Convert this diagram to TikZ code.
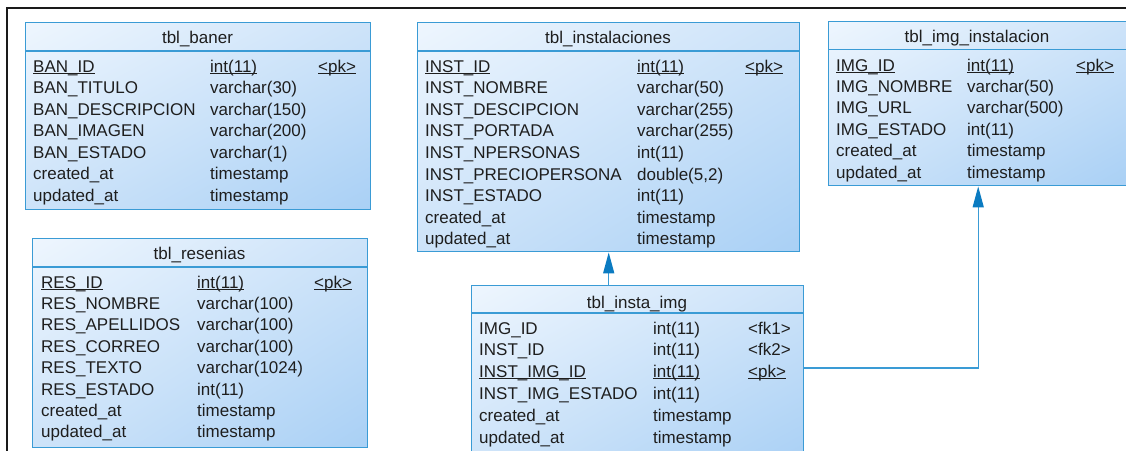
\documentclass[tikz,border=0pt]{standalone}
\usepackage{fontspec}
\setmainfont{Liberation Sans}
\usetikzlibrary{arrows.meta,shadings}

\definecolor{bord}{HTML}{3A9BD5}
\definecolor{arrowc}{HTML}{0B7BC1}
\definecolor{gradA}{HTML}{EEF6FE}
\definecolor{gradB}{HTML}{CDE3F9}
\definecolor{gradC}{HTML}{A9D0F5}
\definecolor{txt}{HTML}{1E1E1E}
\definecolor{framec}{HTML}{1A1A1A}

% underlined key fields
\newcommand\ulc[1]{\setbox0=\hbox{#1}\rlap{\rule[-1.6pt]{\wd0}{1.1pt}}\box0}

\tikzset{
  tbl/.style={draw=bord, line width=1.4pt, shade,
    upper left=gradA, upper right=gradB, lower left=gradB, lower right=gradC,
    inner sep=0pt, anchor=north west},
  sep/.style={draw=bord, line width=1.4pt},
  fld/.style={anchor=base west, inner sep=0pt, text=txt, font=\fontsize{17}{20}\selectfont},
  hdr/.style={anchor=base, inner sep=0pt, text=txt, font=\fontsize{17}{20}\selectfont},
  link/.style={draw=bord, line width=1.4pt,
    -{Triangle[length=21pt,width=11pt,color=arrowc]}},
  framel/.style={draw=framec, line width=2pt}
}

\begin{document}
\begin{tikzpicture}[x=1pt,y=-1pt]
\useasboundingbox (0,0) rectangle (1126,450);
\clip (0,0) rectangle (1126,450);

% page frame
\draw[framel] (7,452) -- (7,7.5) -- (1128,7.5);

% ---------- tbl_baner ----------
\node[tbl, minimum width=345, minimum height=187] (baner) at (25,22) {};
\draw[sep] ([yshift=-29pt]baner.north west) -- ([yshift=-29pt]baner.north east);
\node[hdr] (baner-h) at (197.5,43) {tbl\_baner};
\foreach \a/\b/\c [count=\i from 0] in {
  {\ulc{BAN\_ID}}/{\ulc{int(11)}}/{\ulc{<pk>}},
  {BAN\_TITULO}/{varchar(30)}/{},
  {BAN\_DESCRIPCION}/{varchar(150)}/{},
  {BAN\_IMAGEN}/{varchar(200)}/{},
  {BAN\_ESTADO}/{varchar(1)}/{},
  {created\_at}/{timestamp}/{},
  {updated\_at}/{timestamp}/{}}
{
  \node[fld] (baner-a\i) at (33,{72+21.5*\i}) {\a};
  \node[fld] (baner-b\i) at (210,{72+21.5*\i}) {\b};
  \node[fld] (baner-c\i) at (318,{72+21.5*\i}) {\c};
}

% ---------- tbl_resenias ----------
\node[tbl, minimum width=335, minimum height=209] (resen) at (32,238) {};
\draw[sep] ([yshift=-29pt]resen.north west) -- ([yshift=-29pt]resen.north east);
\node[hdr] (resen-h) at (199.5,259) {tbl\_resenias};
\foreach \a/\b/\c [count=\i from 0] in {
  {\ulc{RES\_ID}}/{\ulc{int(11)}}/{\ulc{<pk>}},
  {RES\_NOMBRE}/{varchar(100)}/{},
  {RES\_APELLIDOS}/{varchar(100)}/{},
  {RES\_CORREO}/{varchar(100)}/{},
  {RES\_TEXTO}/{varchar(1024)}/{},
  {RES\_ESTADO}/{int(11)}/{},
  {created\_at}/{timestamp}/{},
  {updated\_at}/{timestamp}/{}}
{
  \node[fld] (resen-a\i) at (41,{288+21.4*\i}) {\a};
  \node[fld] (resen-b\i) at (197,{288+21.4*\i}) {\b};
  \node[fld] (resen-c\i) at (314,{288+21.4*\i}) {\c};
}

% ---------- tbl_instalaciones ----------
\node[tbl, minimum width=382, minimum height=229] (inst) at (417,22) {};
\draw[sep] ([yshift=-29pt]inst.north west) -- ([yshift=-29pt]inst.north east);
\node[hdr] (inst-h) at (608,43) {tbl\_instalaciones};
\foreach \a/\b/\c [count=\i from 0] in {
  {\ulc{INST\_ID}}/{\ulc{int(11)}}/{\ulc{<pk>}},
  {INST\_NOMBRE}/{varchar(50)}/{},
  {INST\_DESCIPCION}/{varchar(255)}/{},
  {INST\_PORTADA}/{varchar(255)}/{},
  {INST\_NPERSONAS}/{int(11)}/{},
  {INST\_PRECIOPERSONA}/{double(5,2)}/{},
  {INST\_ESTADO}/{int(11)}/{},
  {created\_at}/{timestamp}/{},
  {updated\_at}/{timestamp}/{}}
{
  \node[fld] (inst-a\i) at (425,{72+21.6*\i}) {\a};
  \node[fld] (inst-b\i) at (637,{72+21.6*\i}) {\b};
  \node[fld] (inst-c\i) at (745,{72+21.6*\i}) {\c};
}

% ---------- tbl_insta_img ----------
\node[tbl, minimum width=332, minimum height=180] (insta) at (471,285) {};
\draw[sep] ([yshift=-28pt]insta.north west) -- ([yshift=-28pt]insta.north east);
\node[hdr] (insta-h) at (637,308) {tbl\_insta\_img};
\foreach \a/\b/\c [count=\i from 0] in {
  {IMG\_ID}/{int(11)}/{<fk1>},
  {INST\_ID}/{int(11)}/{<fk2>},
  {\ulc{INST\_IMG\_ID}}/{\ulc{int(11)}}/{\ulc{<pk>}},
  {INST\_IMG\_ESTADO}/{int(11)}/{},
  {created\_at}/{timestamp}/{},
  {updated\_at}/{timestamp}/{}}
{
  \node[fld] (insta-a\i) at (479,{334+21.8*\i}) {\a};
  \node[fld] (insta-b\i) at (653,{334+21.8*\i}) {\b};
  \node[fld] (insta-c\i) at (748,{334+21.8*\i}) {\c};
}

% ---------- tbl_img_instalacion ----------
\node[tbl, minimum width=299, minimum height=164] (imgi) at (828,21) {};
\draw[sep] ([yshift=-28.5pt]imgi.north west) -- ([yshift=-28.5pt]imgi.north east);
\node[hdr] (imgi-h) at (977,42) {tbl\_img\_instalacion};
\foreach \a/\b/\c [count=\i from 0] in {
  {\ulc{IMG\_ID}}/{\ulc{int(11)}}/{\ulc{<pk>}},
  {IMG\_NOMBRE}/{varchar(50)}/{},
  {IMG\_URL}/{varchar(500)}/{},
  {IMG\_ESTADO}/{int(11)}/{},
  {created\_at}/{timestamp}/{},
  {updated\_at}/{timestamp}/{}}
{
  \node[fld] (imgi-a\i) at (836,{71+21.4*\i}) {\a};
  \node[fld] (imgi-b\i) at (967,{71+21.4*\i}) {\b};
  \node[fld] (imgi-c\i) at (1076,{71+21.4*\i}) {\c};
}

% ---------- references ----------
\coordinate (bend) at (0,368);
\draw[link] (insta.north -| inst.south) -- (inst.south);
\draw[link] (insta.east |- bend) -| (imgi.south);

\end{tikzpicture}
\end{document}
